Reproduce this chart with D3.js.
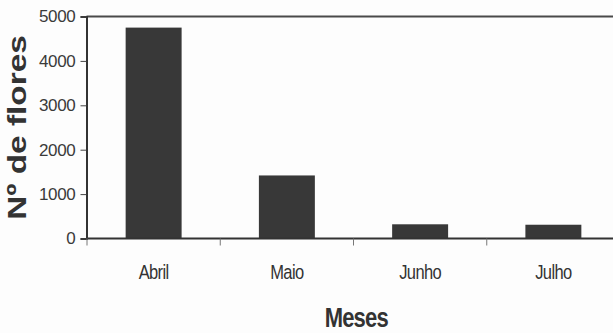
<!DOCTYPE html>
<html>
<head>
<meta charset="utf-8">
<script src="https://cdn.jsdelivr.net/npm/d3@7"></script>
<style>
  html, body { margin: 0; padding: 0; background: #fdfdfd; }
  svg { display: block; }
  text { font-family: "Liberation Sans", Arial, sans-serif; fill: #333; }
</style>
</head>
<body>
<svg id="chart" width="613" height="333"></svg>
<script>
// Flowers counted per month
const months = ["Abril", "Maio", "Junho", "Julho"];
const flowers = [4750, 1420, 320, 310];
const yTicks = [0, 1000, 2000, 3000, 4000, 5000];
const xTitle = "Meses";
const yTitle = "Nº de flores";

const W = 613, H = 333;
const plotLeft = 86.5, plotTop = 16.5, plotRight = 620, plotBottom = 238.5;
const stretch = 1.28; // glyphs in this figure are drawn taller than wide

const svg = d3.select("#chart");

const x = d3.scaleBand().domain(months).range([plotLeft + 0.5, plotRight]).paddingInner(0.58).paddingOuter(0.29);
const y = d3.scaleLinear().domain([0, 5000]).range([plotBottom, plotTop]);

// bars
svg.append("g").selectAll("rect")
  .data(months)
  .join("rect")
  .attr("x", d => x(d))
  .attr("width", x.bandwidth())
  .attr("y", (d, i) => y(flowers[i]))
  .attr("height", (d, i) => y(0) - y(flowers[i]))
  .attr("fill", "#383838");

// plot frame: top edge
svg.append("line").attr("x1", plotLeft).attr("x2", W).attr("y1", plotTop).attr("y2", plotTop)
  .attr("stroke", "#4a4a4a").attr("stroke-width", 2);

// y axis
const yAxis = svg.append("g")
  .attr("transform", `translate(${plotLeft},0)`)
  .call(d3.axisLeft(y).tickValues(yTicks).tickSize(6).tickPadding(5).tickFormat(d3.format("d")));
yAxis.select(".domain").attr("stroke", "#333").attr("stroke-width", 2);
yAxis.selectAll(".tick line").attr("stroke", "#444");
yAxis.selectAll(".tick text")
  .attr("font-size", 17)
  .attr("letter-spacing", -0.3)
  .style("fill", "#3a3a3a");

// x axis with tick marks on the category boundaries
const xAxis = svg.append("g")
  .attr("transform", `translate(0,${plotBottom})`)
  .call(d3.axisBottom(x).tickSize(0).tickSizeOuter(0));
xAxis.select(".domain").attr("stroke", "#333").attr("stroke-width", 2)
  .attr("d", `M${plotLeft},0H${W}`);
xAxis.selectAll(".tick text")
  .attr("y", 0).attr("dy", 0)
  .attr("font-size", 16.5)
  .attr("letter-spacing", -0.6)
  .attr("transform", `translate(0,40) scale(1,${stretch})`)
  .style("fill", "#333");

const bounds = months.map(m => x(m) - x.step() * x.paddingInner() / 2);
svg.append("g").selectAll("line")
  .data(bounds)
  .join("line")
  .attr("x1", d => d).attr("x2", d => d)
  .attr("y1", plotBottom).attr("y2", plotBottom + 7)
  .attr("stroke", "#777").attr("stroke-width", 1);

// axis titles
svg.append("text")
  .attr("text-anchor", "middle")
  .attr("font-weight", "bold")
  .attr("font-size", 22)
  .attr("letter-spacing", -0.8)
  .attr("transform", `translate(${(plotLeft + plotRight) / 2 + 3},327) scale(1,1.28)`)
  .text(xTitle);

svg.append("text")
  .attr("text-anchor", "middle")
  .attr("font-weight", "bold")
  .attr("font-size", 26.5)
  .attr("transform", `translate(26,${(plotTop + plotBottom) / 2}) rotate(-90) scale(1.26,1)`)
  .text(yTitle);
</script>
</body>
</html>
